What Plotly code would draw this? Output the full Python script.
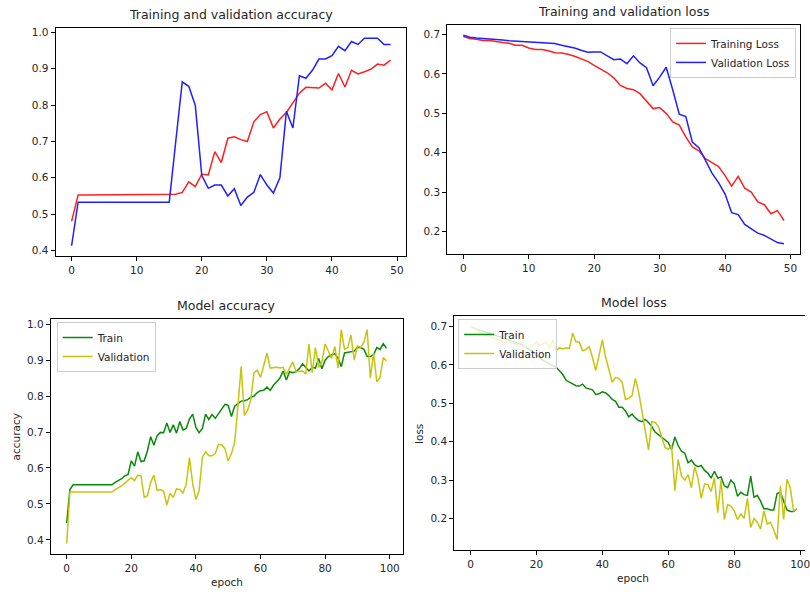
import plotly.graph_objects as go

# ---------------- data ----------------
epochs50 = list(range(50))
epochs100 = list(range(100))

tl_train_acc = [0.48, 0.553, 0.553, 0.553, 0.553, 0.553, 0.553, 0.553, 0.553, 0.553,
                0.553, 0.553, 0.553, 0.553, 0.553, 0.553, 0.555, 0.56, 0.589, 0.576,
                0.61, 0.608, 0.672, 0.642, 0.709, 0.713, 0.705, 0.70, 0.754, 0.774,
                0.782, 0.737, 0.762, 0.78, 0.807, 0.833, 0.849, 0.847, 0.847, 0.86,
                0.842, 0.887, 0.85, 0.896, 0.886, 0.892, 0.899, 0.913, 0.91, 0.924]
tl_val_acc = [0.413, 0.533, 0.533, 0.533, 0.533, 0.533, 0.533, 0.533, 0.533, 0.533,
              0.533, 0.533, 0.533, 0.533, 0.533, 0.533, 0.70, 0.864, 0.852, 0.80,
              0.607, 0.571, 0.58, 0.58, 0.55, 0.57, 0.524, 0.547, 0.56, 0.609,
              0.58, 0.558, 0.60, 0.783, 0.737, 0.881, 0.874, 0.896, 0.927, 0.927,
              0.936, 0.962, 0.95, 0.975, 0.967, 0.984, 0.984, 0.984, 0.967, 0.967]

tr_train_loss = [0.695, 0.69, 0.688, 0.685, 0.685, 0.682, 0.68, 0.678, 0.673, 0.673,
                 0.666, 0.662, 0.662, 0.659, 0.654, 0.653, 0.65, 0.645, 0.638, 0.632,
                 0.622, 0.612, 0.603, 0.59, 0.571, 0.563, 0.56, 0.55, 0.53, 0.512,
                 0.515, 0.5, 0.478, 0.47, 0.44, 0.415, 0.405, 0.385, 0.375, 0.365,
                 0.342, 0.315, 0.34, 0.31, 0.3, 0.275, 0.268, 0.245, 0.253, 0.228]
tr_val_loss = [0.698, 0.693, 0.691, 0.69, 0.689, 0.687, 0.686, 0.684, 0.683, 0.682,
               0.681, 0.681, 0.68, 0.679, 0.677, 0.673, 0.67, 0.666, 0.66, 0.655,
               0.656, 0.656, 0.646, 0.636, 0.638, 0.626, 0.646, 0.628, 0.616, 0.57,
               0.592, 0.617, 0.56, 0.498, 0.492, 0.427, 0.413, 0.38, 0.348, 0.324,
               0.295, 0.248, 0.243, 0.218, 0.207, 0.196, 0.19, 0.18, 0.172, 0.169]

bl_train_acc = [0.447, 0.54, 0.553, 0.553, 0.553, 0.553, 0.553, 0.553, 0.553, 0.553,
                0.553, 0.553, 0.553, 0.553, 0.553, 0.56, 0.565, 0.57, 0.578, 0.582,
                0.62, 0.605, 0.645, 0.618, 0.62, 0.648, 0.687, 0.663, 0.69, 0.699,
                0.698, 0.725, 0.699, 0.72, 0.697, 0.729, 0.706, 0.71, 0.736, 0.75,
                0.713, 0.698, 0.71, 0.75, 0.735, 0.749, 0.738, 0.75, 0.764, 0.777,
                0.774, 0.743, 0.772, 0.778, 0.786, 0.787, 0.79, 0.797, 0.8, 0.81,
                0.815, 0.816, 0.825, 0.816, 0.83, 0.84, 0.85, 0.87, 0.845, 0.868,
                0.865, 0.868, 0.876, 0.89, 0.88, 0.87, 0.88, 0.878, 0.905, 0.876,
                0.9, 0.91, 0.915, 0.918, 0.905, 0.882, 0.92, 0.922, 0.922, 0.925,
                0.935, 0.935, 0.93, 0.91, 0.91, 0.915, 0.935, 0.93, 0.946, 0.933]
bl_val_acc = [0.39, 0.533, 0.533, 0.533, 0.533, 0.533, 0.533, 0.533, 0.533, 0.533,
              0.533, 0.533, 0.533, 0.533, 0.533, 0.54, 0.545, 0.55, 0.558, 0.565,
              0.573, 0.565, 0.58, 0.578, 0.518, 0.523, 0.56, 0.58, 0.538, 0.54,
              0.535, 0.497, 0.53, 0.518, 0.542, 0.54, 0.53, 0.555, 0.628, 0.557,
              0.512, 0.538, 0.63, 0.645, 0.634, 0.634, 0.64, 0.666, 0.664, 0.654,
              0.62, 0.64, 0.672, 0.77, 0.882, 0.746, 0.76, 0.79, 0.865, 0.872,
              0.852, 0.885, 0.92, 0.878, 0.88, 0.88, 0.878, 0.88, 0.86, 0.88,
              0.895, 0.868, 0.87, 0.87, 0.862, 0.945, 0.865, 0.935, 0.88, 0.895,
              0.945, 0.925, 0.905, 0.938, 0.878, 0.985, 0.93, 0.935, 0.97, 0.9,
              0.94, 0.935, 0.95, 0.985, 0.85, 0.92, 0.84, 0.852, 0.907, 0.898]

br_train_loss = [0.70, 0.695, 0.692, 0.69, 0.686, 0.684, 0.682, 0.679, 0.676, 0.674,
                 0.671, 0.668, 0.665, 0.662, 0.659, 0.655, 0.65, 0.645, 0.64, 0.634,
                 0.625, 0.62, 0.612, 0.608, 0.603, 0.598, 0.594, 0.585, 0.575, 0.56,
                 0.555, 0.552, 0.546, 0.545, 0.55, 0.54, 0.537, 0.535, 0.523, 0.525,
                 0.53, 0.527, 0.52, 0.51, 0.505, 0.49, 0.49, 0.48, 0.465, 0.472,
                 0.462, 0.455, 0.452, 0.458, 0.45, 0.44, 0.425, 0.418, 0.41, 0.405,
                 0.398, 0.38, 0.412, 0.39, 0.375, 0.37, 0.345, 0.352, 0.34, 0.335,
                 0.338, 0.325, 0.318, 0.305, 0.323, 0.305, 0.308, 0.285, 0.28, 0.3,
                 0.29, 0.258, 0.268, 0.262, 0.26, 0.31, 0.255, 0.26, 0.245, 0.225,
                 0.225, 0.222, 0.222, 0.265, 0.268, 0.245, 0.222, 0.218, 0.218, 0.225]
br_val_loss = [0.70, 0.695, 0.688, 0.683, 0.68, 0.676, 0.672, 0.67, 0.667, 0.664,
               0.66, 0.66, 0.658, 0.655, 0.652, 0.65, 0.648, 0.646, 0.645, 0.652,
               0.66, 0.65, 0.655, 0.66, 0.645, 0.665, 0.637, 0.645, 0.642, 0.645,
               0.643, 0.683, 0.66, 0.66, 0.637, 0.64, 0.648, 0.62, 0.585, 0.63,
               0.665, 0.62, 0.585, 0.555, 0.567, 0.565, 0.555, 0.51, 0.513, 0.52,
               0.565, 0.53, 0.48, 0.43, 0.378, 0.452, 0.45, 0.44, 0.41, 0.385,
               0.38, 0.39, 0.272, 0.354, 0.31, 0.30, 0.314, 0.28, 0.335, 0.305,
               0.252, 0.29, 0.288, 0.27, 0.306, 0.215, 0.3, 0.197, 0.236, 0.232,
               0.22, 0.197, 0.212, 0.2, 0.252, 0.176, 0.2, 0.19, 0.172, 0.22,
               0.185, 0.19, 0.17, 0.145, 0.285, 0.197, 0.302, 0.28, 0.22, 0.225]

titles = ["Training and validation accuracy", "Training and validation loss",
          "Model accuracy", "Model loss"]

# ---------------- styling ----------------
W, H = 810, 592
FONT = "DejaVu Sans"
TXT = "#262626"

def px_x(p):
    return p / W

def px_y(p):
    return 1 - p / H

def pad_range(vals):
    lo, hi = min(vals), max(vals)
    d = (hi - lo) * 0.05
    return [lo - d, hi + d]

fig = go.Figure()

def add_line(x, y, color, name, xa, ya, legend="legend", show=False):
    fig.add_trace(go.Scatter(x=x, y=y, mode="lines", name=name,
                             line=dict(color=color, width=1.5),
                             xaxis=xa, yaxis=ya, showlegend=show, legend=legend))

RED, BLUE, GREEN, YEL = "#ff1f1f", "#1f1fff", "#0a8a0a", "#c8c40e"

add_line(epochs50, tl_train_acc, RED, "Training Accuracy", "x", "y")
add_line(epochs50, tl_val_acc, BLUE, "Validation Accuracy", "x", "y")
add_line(epochs50, tr_train_loss, RED, "Training Loss", "x2", "y2", "legend", True)
add_line(epochs50, tr_val_loss, BLUE, "Validation Loss", "x2", "y2", "legend", True)
add_line(epochs100, bl_train_acc, GREEN, "Train", "x3", "y3", "legend2", True)
add_line(epochs100, bl_val_acc, YEL, "Validation", "x3", "y3", "legend2", True)
add_line(epochs100, br_train_loss, GREEN, "Train", "x4", "y4", "legend3", True)
add_line(epochs100, br_val_loss, YEL, "Validation", "x4", "y4", "legend3", True)

def axis(domain, rng, dtick, anchor, fmt=None, mirror=True):
    d = dict(domain=domain, range=rng, showgrid=False, zeroline=False,
             showline=True, linecolor="black", linewidth=1, mirror=mirror,
             ticks="outside", ticklen=4, tickwidth=1, tickcolor="black",
             tick0=0, dtick=dtick, anchor=anchor, ticklabeloverflow="allow",
             tickfont=dict(family=FONT, size=10.5, color=TXT))
    if fmt:
        d["tickformat"] = fmt
    return d

# pixel boxes (left, top, right, bottom)
boxes = [(56, 26, 409, 255), (450, 23, 805, 253), (51, 318, 405, 554), (457, 315, 810, 550)]

xr50 = [-2.45, 51.45]
xr100 = [-4.95, 103.95]
# bottom-right axes run past the figure edge (clipped)
br_xr = [-4.95, -4.95 + (810 - 457) / ((805 - 473.3) / 100)]

def dom(b):
    return [px_x(b[0]), px_x(b[2])], [px_y(b[3]), px_y(b[1])]

dx, dy = dom(boxes[0])
fig.update_layout(xaxis=axis(dx, xr50, 10, "y"),
                  yaxis=axis(dy, pad_range(tl_train_acc + tl_val_acc), 0.1, "x", ".1f"))
dx, dy = dom(boxes[1])
fig.update_layout(xaxis2=axis(dx, xr50, 10, "y2"),
                  yaxis2=axis(dy, pad_range(tr_train_loss + tr_val_loss), 0.1, "x2", ".1f"))
dx, dy = dom(boxes[2])
fig.update_layout(xaxis3=axis(dx, xr100, 20, "y3"),
                  yaxis3=axis(dy, pad_range(bl_train_acc + bl_val_acc), 0.1, "x3", ".1f"))
dx, dy = dom(boxes[3])
fig.update_layout(xaxis4=axis(dx, br_xr, 20, "y4"),
                  yaxis4=axis(dy, pad_range(br_train_loss + br_val_loss), 0.1, "x4", ".1f", mirror=False))

annotations = []
centers = [(56 + 409) / 2, (450 + 805) / 2, (51 + 405) / 2, (457 + 818) / 2]
for t, b, cx in zip(titles, boxes, centers):
    annotations.append(dict(text=t, x=px_x(cx), y=px_y(b[1] - 4), xref="paper", yref="paper",
                            xanchor="center", yanchor="bottom", showarrow=False,
                            font=dict(family=FONT, size=12.5, color=TXT)))
# axis labels
annotations.append(dict(text="epoch", x=px_x(228), y=px_y(582), xref="paper", yref="paper",
                        xanchor="center", yanchor="middle", showarrow=False,
                        font=dict(family=FONT, size=10.5, color=TXT)))
annotations.append(dict(text="epoch", x=px_x(637), y=px_y(578), xref="paper", yref="paper",
                        xanchor="center", yanchor="middle", showarrow=False,
                        font=dict(family=FONT, size=10.5, color=TXT)))
annotations.append(dict(text="accuracy", x=px_x(16), y=px_y(436), xref="paper", yref="paper",
                        xanchor="center", yanchor="middle", showarrow=False, textangle=-90,
                        font=dict(family=FONT, size=10.5, color=TXT)))
annotations.append(dict(text="loss", x=px_x(421), y=px_y(433), xref="paper", yref="paper",
                        xanchor="center", yanchor="middle", showarrow=False, textangle=-90,
                        font=dict(family=FONT, size=10.5, color=TXT)))

leg_common = dict(bgcolor="rgba(255,255,255,0.8)", bordercolor="#cccccc", borderwidth=1,
                  font=dict(family=FONT, size=10.5, color=TXT), tracegroupgap=0,
                  itemwidth=30, xanchor="left", yanchor="top")

fig.update_layout(
    width=W, height=H, margin=dict(l=0, r=0, t=0, b=0),
    paper_bgcolor="white", plot_bgcolor="white",
    annotations=annotations,
    legend=dict(leg_common, x=px_x(801), y=px_y(26), xanchor="right"),
    legend2=dict(leg_common, x=px_x(57), y=px_y(321)),
    legend3=dict(leg_common, x=px_x(461), y=px_y(318)),
    font=dict(family=FONT),
)

fig.write_html("out.html")
